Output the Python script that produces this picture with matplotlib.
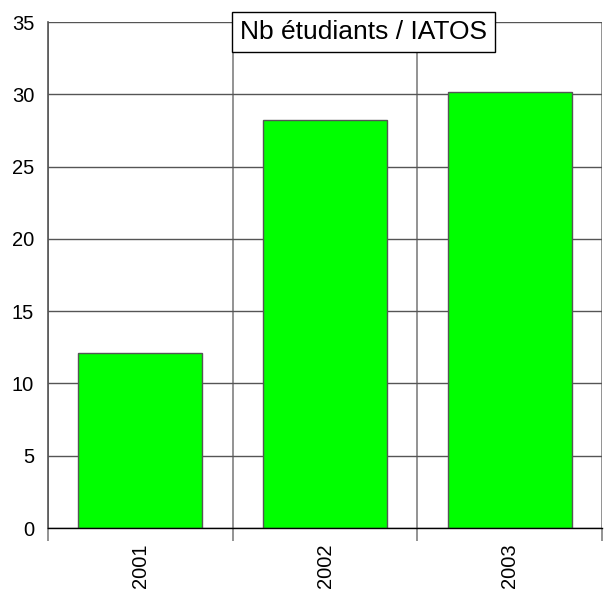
import numpy as np
import matplotlib.pyplot as plt

plt.rcParams['font.family'] = ['Liberation Sans', 'DejaVu Sans']

# data
years = ["2001", "2002", "2003"]
ratio = [12.1, 28.2, 30.15]
title_txt = "Nb étudiants / IATOS"

W, H = 605, 601
fig = plt.figure(figsize=(W / 100, H / 100), dpi=100)
ax = fig.add_axes([48 / W, (H - 528) / H, (602 - 48) / W, (528 - 22) / H])

x = np.arange(len(years))
ax.bar(x, ratio, width=0.67, color="#00ff00", edgecolor="#555555", linewidth=1, zorder=3)

ax.set_xlim(-0.5, len(years) - 0.5)
ax.set_ylim(0, 35)
ax.set_yticks(np.arange(0, 36, 5))
ax.set_xticks(x)
ax.set_xticklabels(years, rotation=90, fontsize=14.5)
ax.set_xticks(np.arange(-0.5, len(years), 1), minor=True)

ax.tick_params(axis="y", length=0, pad=10, labelsize=14.5)
ax.tick_params(axis="x", which="major", length=0, pad=11)
ax.tick_params(axis="x", which="minor", length=9.5, width=1.2, color="#808080")

ax.grid(axis="y", which="major", color="#555555", linewidth=1, zorder=0)
ax.grid(axis="x", which="minor", color="#808080", linewidth=1.2, zorder=0)
ax.set_axisbelow(True)

for s in ["top", "right"]:
    ax.spines[s].set_visible(False)
ax.spines["left"].set_color("#555555")
ax.spines["left"].set_linewidth(1.2)
ax.spines["bottom"].set_color("black")
ax.spines["bottom"].set_linewidth(1)
ax.spines["bottom"].set_zorder(4)

ax.text(0.5695, 0.981, title_txt, transform=ax.transAxes, ha="center", va="center",
        fontsize=19, zorder=5,
        bbox=dict(boxstyle="square,pad=0.3", facecolor="white", edgecolor="black", linewidth=1))

fig.savefig("out.png", dpi=100)
